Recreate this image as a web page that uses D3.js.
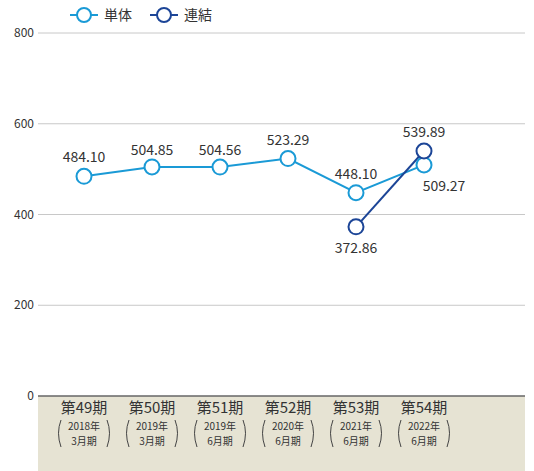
<!DOCTYPE html>
<html>
<head>
<meta charset="utf-8">
<script src="https://cdn.jsdelivr.net/npm/d3@7"></script>
<style>
body { margin: 0; background: #fff; }
text { font-family: "Noto Sans CJK JP", "Noto Sans", sans-serif; fill: #333; }
</style>
</head>
<body>
<div id="chart"></div>
<script>
// data
var periods = ['第49期', '第50期', '第51期', '第52期', '第53期', '第54期'];
var years = ['2018年', '2019年', '2019年', '2020年', '2021年', '2022年'];
var months = ['3月期', '3月期', '6月期', '6月期', '6月期', '6月期'];
var tanTai = [484.10, 504.85, 504.56, 523.29, 448.10, 509.27];
var renketsu = [null, null, null, null, 372.86, 539.89];
var yTicks = [0, 200, 400, 600, 800];
var seriesNames = ['単体', '連結'];

var width = 534, height = 471;
var colorLight = '#1a9ad6', colorDark = '#1c4597';

var svg = d3.select('#chart').append('svg')
    .attr('width', width)
    .attr('height', height);

var x = d3.scalePoint()
    .domain(d3.range(periods.length))
    .range([84, 424]);

var y = d3.scaleLinear()
    .domain([0, 800])
    .range([396, 33]);

var left = 38, right = 525;

// beige band under axis
svg.append('rect')
    .attr('x', left)
    .attr('y', y(0))
    .attr('width', right - left)
    .attr('height', height - y(0))
    .attr('fill', '#e6e3d3');

// grid lines
svg.selectAll('.grid')
    .data(yTicks.filter(function(d) { return d > 0; }))
    .enter().append('line')
    .attr('x1', left).attr('x2', right)
    .attr('y1', function(d) { return y(d); })
    .attr('y2', function(d) { return y(d); })
    .attr('stroke', '#c8c8c8')
    .attr('stroke-width', 1);

svg.append('line')
    .attr('x1', left).attr('x2', right)
    .attr('y1', y(0)).attr('y2', y(0))
    .attr('stroke', '#666')
    .attr('stroke-width', 1.5);

// y tick labels
svg.selectAll('.ytick')
    .data(yTicks)
    .enter().append('text')
    .attr('x', 34)
    .attr('y', function(d) { return y(d) + 4; })
    .attr('text-anchor', 'end')
    .attr('font-size', 12)
    .text(function(d) { return d; });

// x category labels
var cat = svg.selectAll('.cat')
    .data(periods)
    .enter().append('g')
    .attr('transform', function(d, i) { return 'translate(' + x(i) + ',0)'; });

cat.append('text')
    .attr('y', 413)
    .attr('text-anchor', 'middle')
    .attr('font-size', 15)
    .text(function(d) { return d; });

cat.append('text')
    .attr('y', 430)
    .attr('text-anchor', 'middle')
    .attr('font-size', 10)
    .text(function(d, i) { return years[i]; });

cat.append('text')
    .attr('y', 444.5)
    .attr('text-anchor', 'middle')
    .attr('font-size', 10)
    .text(function(d, i) { return months[i]; });

// tall thin brackets around the year/month lines
var bracket = function(dir) {
    return 'M' + (dir * 23) + ',420 Q' + (dir * 28) + ',433 ' + (dir * 23) + ',447';
};
cat.append('path')
    .attr('d', bracket(-1))
    .attr('fill', 'none')
    .attr('stroke', '#444')
    .attr('stroke-width', 1);
cat.append('path')
    .attr('d', bracket(1))
    .attr('fill', 'none')
    .attr('stroke', '#444')
    .attr('stroke-width', 1);

// lines
var line = d3.line()
    .defined(function(d) { return d != null; })
    .x(function(d, i) { return x(i); })
    .y(function(d) { return y(d); });

svg.append('path')
    .datum(tanTai)
    .attr('fill', 'none')
    .attr('stroke', colorLight)
    .attr('stroke-width', 2)
    .attr('d', line);

svg.append('path')
    .datum(renketsu)
    .attr('fill', 'none')
    .attr('stroke', colorDark)
    .attr('stroke-width', 2)
    .attr('d', line);

function drawPoints(data, color) {
    svg.selectAll(null)
        .data(data.map(function(v, i) { return {v: v, i: i}; }).filter(function(d) { return d.v != null; }))
        .enter().append('circle')
        .attr('cx', function(d) { return x(d.i); })
        .attr('cy', function(d) { return y(d.v); })
        .attr('r', 7.5)
        .attr('fill', '#fff')
        .attr('stroke', color)
        .attr('stroke-width', 2);
}
drawPoints(tanTai, colorLight);
drawPoints(renketsu, colorDark);

// value labels: offsets per point
var tanTaiOffset = [[0, -14], [0, -12], [0, -12], [0, -14], [0, -14], [20, 26]];
var renOffset = [null, null, null, null, [0, 26], [0, -14]];

function drawLabels(data, offsets) {
    svg.selectAll(null)
        .data(data.map(function(v, i) { return {v: v, i: i}; }).filter(function(d) { return d.v != null; }))
        .enter().append('text')
        .attr('x', function(d) { return x(d.i) + offsets[d.i][0]; })
        .attr('y', function(d) { return y(d.v) + offsets[d.i][1]; })
        .attr('text-anchor', 'middle')
        .attr('font-size', 14)
        .text(function(d) { return d.v.toFixed(2); });
}
drawLabels(tanTai, tanTaiOffset);
drawLabels(renketsu, renOffset);

// legend
var legend = svg.selectAll('.legend')
    .data(seriesNames)
    .enter().append('g')
    .attr('transform', function(d, i) { return 'translate(' + (70 + i * 80) + ',15)'; });

legend.append('line')
    .attr('x1', 0).attr('x2', 28)
    .attr('stroke', function(d, i) { return i ? colorDark : colorLight; })
    .attr('stroke-width', 2);

legend.append('circle')
    .attr('cx', 14).attr('r', 7)
    .attr('fill', '#fff')
    .attr('stroke', function(d, i) { return i ? colorDark : colorLight; })
    .attr('stroke-width', 2);

legend.append('text')
    .attr('x', 34)
    .attr('y', 5)
    .attr('font-size', 14)
    .text(function(d) { return d; });
</script>
</body>
</html>
